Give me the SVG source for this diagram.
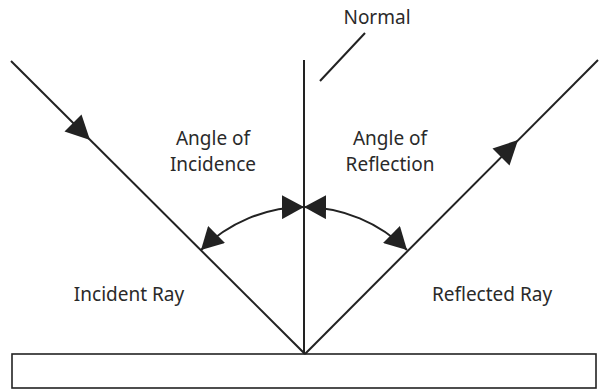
<svg xmlns="http://www.w3.org/2000/svg" width="601" height="391" viewBox="0 0 601 391">
<style>
.ln{stroke:#222;stroke-width:2;fill:none}
.ah{fill:#222;stroke:none}
.t{font-family:"Noto Sans","Open Sans",sans-serif;font-size:19px;fill:#2a2a2a;text-anchor:middle}
</style>
<defs>
<marker id="arr" markerUnits="userSpaceOnUse" viewBox="0 0 22 24" refX="22" refY="12" markerWidth="22" markerHeight="24" orient="auto-start-reverse">
<path d="M0,0 L22,12 L0,24 Z" fill="#222"/>
</marker>
</defs>
<g id="mirror"><rect x="12" y="354" width="584" height="34" fill="#fff" stroke="#222" stroke-width="1.6"/></g>
<g id="connectors">
<line class="ln" x1="11" y1="61" x2="305" y2="354"/>
<line class="ln" x1="305" y1="354" x2="598" y2="60"/>
<line class="ln" x1="304" y1="60" x2="304" y2="354"/>
<line class="ln" x1="320" y1="81" x2="365" y2="33"/>
<polygon class="ah" points="90,140 81.5,114.5 64.5,131.5"/>
<polygon class="ah" points="518,140 509.5,165.5 492.5,148.5"/>
<path class="ln" d="M304,207 A147,147 0 0,0 201,250" marker-start="url(#arr)" marker-end="url(#arr)"/>
<path class="ln" d="M304,207 A147,147 0 0,1 407,250" marker-start="url(#arr)" marker-end="url(#arr)"/>
</g>
<g id="normal-label"><text class="t" x="377" y="24">Normal</text></g>
<g id="angle-incidence"><text class="t" x="213" y="145">Angle of</text><text class="t" x="213" y="171">Incidence</text></g>
<g id="angle-reflection"><text class="t" x="390" y="145">Angle of</text><text class="t" x="390" y="171">Reflection</text></g>
<g id="incident-ray"><text class="t" x="129" y="301">Incident Ray</text></g>
<g id="reflected-ray"><text class="t" x="492" y="301">Reflected Ray</text></g>
</svg>
